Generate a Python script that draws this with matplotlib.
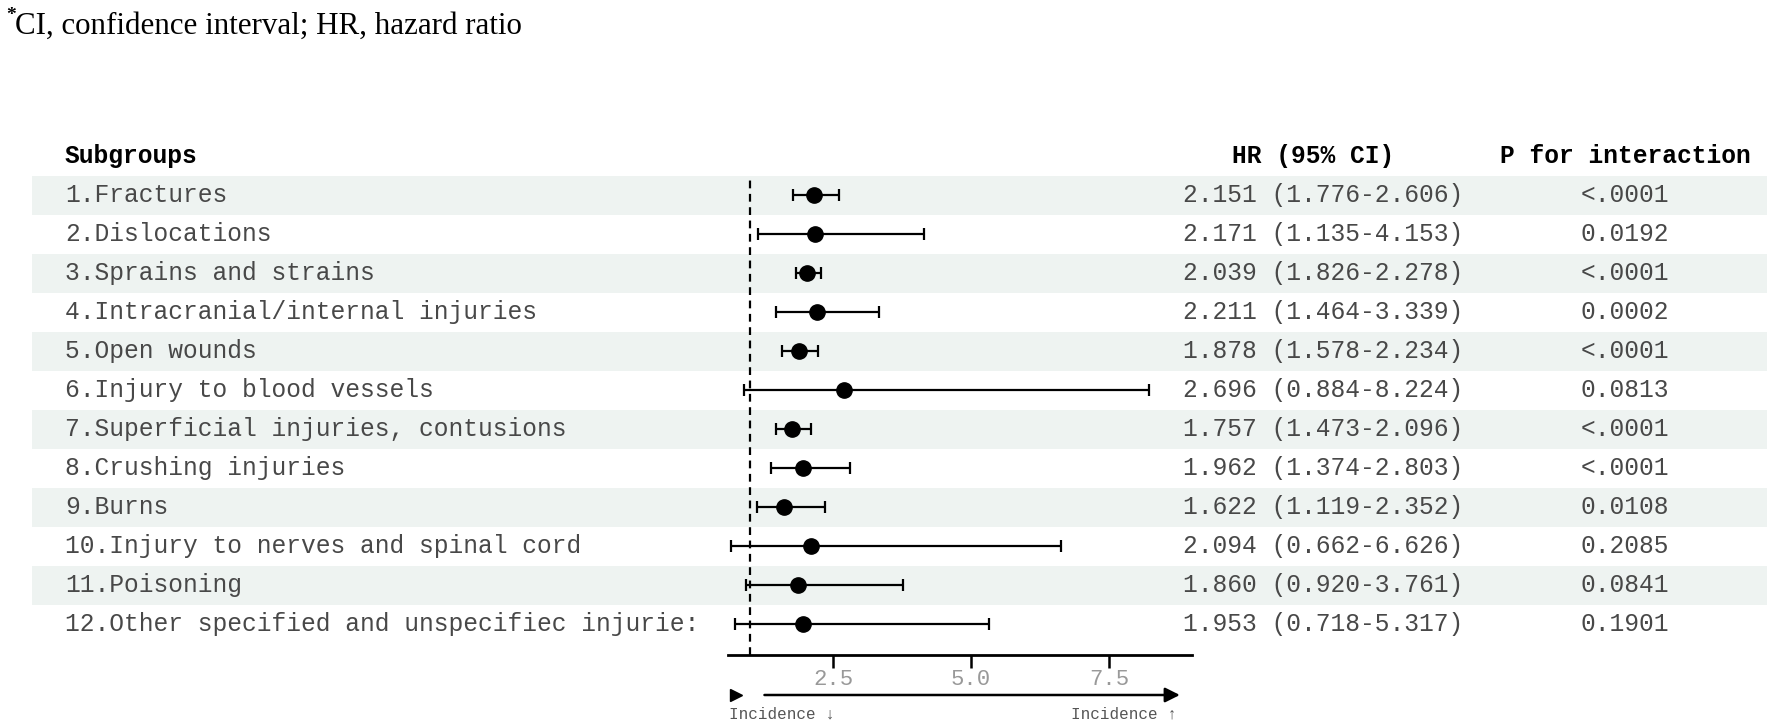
import matplotlib
matplotlib.use("Agg")
import matplotlib.pyplot as plt

labels = [
    "1.Fractures",
    "2.Dislocations",
    "3.Sprains and strains",
    "4.Intracranial/internal injuries",
    "5.Open wounds",
    "6.Injury to blood vessels",
    "7.Superficial injuries, contusions",
    "8.Crushing injuries",
    "9.Burns",
    "10.Injury to nerves and spinal cord",
    "11.Poisoning",
    "12.Other specified and unspecifiec injurie:",
]
hr = [2.151, 2.171, 2.039, 2.211, 1.878, 2.696, 1.757, 1.962, 1.622, 2.094, 1.860, 1.953]
lo = [1.776, 1.135, 1.826, 1.464, 1.578, 0.884, 1.473, 1.374, 1.119, 0.662, 0.920, 0.718]
hi = [2.606, 4.153, 2.278, 3.339, 2.234, 8.224, 2.096, 2.803, 2.352, 6.626, 3.761, 5.317]
p_vals = ["<.0001", "0.0192", "<.0001", "0.0002", "<.0001", "0.0813",
          "<.0001", "<.0001", "0.0108", "0.2085", "0.0841", "0.1901"]
ticks = [2.5, 5.0, 7.5]
tick_labels = ["2.5", "5.0", "7.5"]
ref_line = 1.0
x_range = (0.6, 9.0)

W, H = 1772, 723
DPI = 100
ROW0, ROWH = 195, 39          # pixel centre of first row, row height
AX_TOP, AX_BOT = 176, 655     # forest panel pixel extent
MONO = ["Liberation Mono", "DejaVu Sans Mono"]
FS = 17.7
TXT = "#484848"
BAND = "#eef3f1"

fig = plt.figure(figsize=(W / DPI, H / DPI), dpi=DPI)


def row_of(px):
    return (px - ROW0) / ROWH


# background / text layer: x in pixels, y in row units
bg = fig.add_axes([0, 0, 1, 1])
bg.set_xlim(0, W)
bg.set_ylim(row_of(H), row_of(0))
bg.axis("off")

n = len(labels)
for i in range(n):
    if i % 2 == 0:
        bg.axhspan(i - 0.5, i + 0.5, xmin=32 / W, xmax=1767 / W, color=BAND, lw=0, zorder=0)
    bg.text(65, i, labels[i], family=MONO, fontsize=FS, color=TXT, va="center", ha="left")
    bg.text(1183, i, f"{hr[i]:.3f} ({lo[i]:.3f}-{hi[i]:.3f})", family=MONO,
            fontsize=FS, color=TXT, va="center", ha="left")
    bg.text(1625, i, p_vals[i], family=MONO, fontsize=FS, color=TXT, va="center", ha="center")

hy = row_of(156)
bg.text(65, hy, "Subgroups", family=MONO, fontsize=FS, weight="bold", va="center")
bg.text(1232, hy, "HR (95% CI)", family=MONO, fontsize=FS, weight="bold", va="center")
bg.text(1500, hy, "P for interaction", family=MONO, fontsize=FS, weight="bold", va="center")

# footnote at top
bg.text(6, row_of(15), "*", family="Liberation Serif", fontsize=14, weight="bold", va="center")
bg.text(15, row_of(26), "CI, confidence interval; HR, hazard ratio",
        family="Liberation Serif", fontsize=22.3, va="center")

# forest panel
fax = fig.add_axes([728 / W, (H - AX_BOT) / H, (1192 - 728) / W, (AX_BOT - AX_TOP) / H])
fax.patch.set_alpha(0)
fax.set_xlim(*x_range)
fax.set_ylim(row_of(AX_BOT), row_of(AX_TOP))
for s in ["top", "left", "right"]:
    fax.spines[s].set_visible(False)
fax.spines["bottom"].set_linewidth(2)
fax.set_yticks([])
fax.set_xticks(ticks)
fax.set_xticklabels(tick_labels, family=MONO, fontsize=16)
fax.tick_params(axis="x", direction="out", length=9, width=1.8, pad=1, labelcolor="#999999")

fax.axvline(ref_line, color="black", lw=1.6, ls=(0, (3.5, 2.5)), zorder=1)

rows = list(range(n))
err = [[h - l for h, l in zip(hr, lo)], [u - h for h, u in zip(hr, hi)]]
fax.errorbar(hr, rows, xerr=err, fmt="o", color="black", ms=11, elinewidth=1.6,
             capsize=4, capthick=1.6, zorder=3, clip_on=False)

# direction arrows under the axis
tr = fax.get_xaxis_transform()
ay = (AX_BOT - 695) / (AX_BOT - AX_TOP)
ty = (AX_BOT - 714) / (AX_BOT - AX_TOP)
fax.plot([x_range[0] + 0.14], [ay], marker=">", color="black", ms=9, transform=tr, clip_on=False)
fax.annotate("", xy=(x_range[1] - 0.22, ay), xytext=(ref_line + 0.26, ay), xycoords=tr,
             textcoords=tr, arrowprops=dict(arrowstyle="-|>", lw=1.8, color="black",
                                            mutation_scale=22, shrinkA=0, shrinkB=0))
fax.text(x_range[0] + 0.02, ty, "Incidence \u2193", transform=tr, family=MONO, fontsize=11.5,
         color="#555555", ha="left", va="center")
fax.text(x_range[1] - 0.28, ty, "Incidence \u2191", transform=tr, family=MONO, fontsize=11.5,
         color="#555555", ha="right", va="center")

fig.savefig("out.png", dpi=DPI)
